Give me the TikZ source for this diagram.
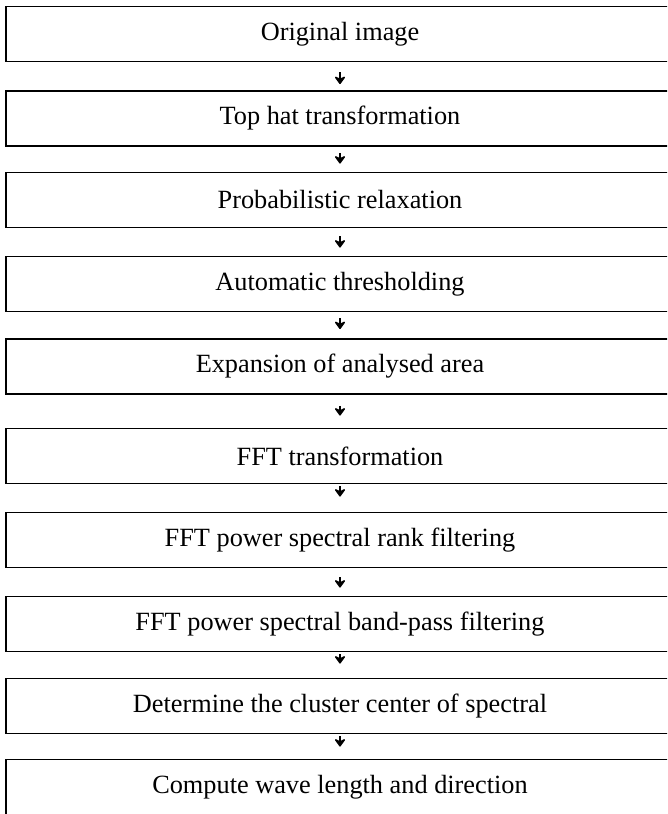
\documentclass[tikz,border=0pt]{standalone}
\usepackage{fontspec}
\setmainfont{Liberation Serif}
\usetikzlibrary{arrows.meta}
\tikzset{>={Stealth[length=9pt,width=13pt,inset=3pt,round]}}
\tikzset{stage/.style={draw, line width=1.9pt, minimum width=668pt, minimum height=55pt, inner sep=0pt, font=\fontsize{26.3}{30}\selectfont}}
\tikzset{flow/.style={->, line width=2.8pt}}

\begin{document}
\begin{tikzpicture}[x=1pt, y=-1pt]
            \clip (0,0) rectangle (667,814);
            \node[stage] (orig) at (340,34) {Original image};
            \node[stage] (tophat) at (340,118.5) {Top hat transformation};
            \node[stage] (relax) at (340,200) {Probabilistic relaxation};
            \node[stage] (thresh) at (340,284) {Automatic thresholding};
            \node[stage] (expand) at (340,366.5) {Expansion of analysed area};
            \node[stage] (fft) at (340,456) {FFT transformation};
            \node[stage] (rank) at (340,540) {FFT power spectral rank filtering};
            \node[stage] (band) at (340,624) {FFT power spectral band-pass filtering};
            \node[stage] (cluster) at (340,706) {Determine the cluster center of spectral};
            \node[stage] (wave) at (340,787) {Compute wave length and direction};
            \draw[flow, shorten <=10pt, shorten >=6pt] (orig) -- (tophat);
            \draw[flow, shorten <=6pt, shorten >=8pt] (tophat) -- (relax);
            \draw[flow, shorten <=8pt, shorten >=8pt] (relax) -- (thresh);
            \draw[flow, shorten <=6pt, shorten >=9pt] (thresh) -- (expand);
            \draw[flow, shorten <=11pt, shorten >=12pt] (expand) -- (fft);
            \draw[flow, shorten <=2pt, shorten >=15pt] (fft) -- (rank);
            \draw[flow, shorten <=9pt, shorten >=8pt] (rank) -- (band);
            \draw[flow, shorten <=2pt, shorten >=14pt] (band) -- (cluster);
            \draw[flow, shorten <=2pt, shorten >=12pt] (cluster) -- (wave);
        \end{tikzpicture}
\end{document}
